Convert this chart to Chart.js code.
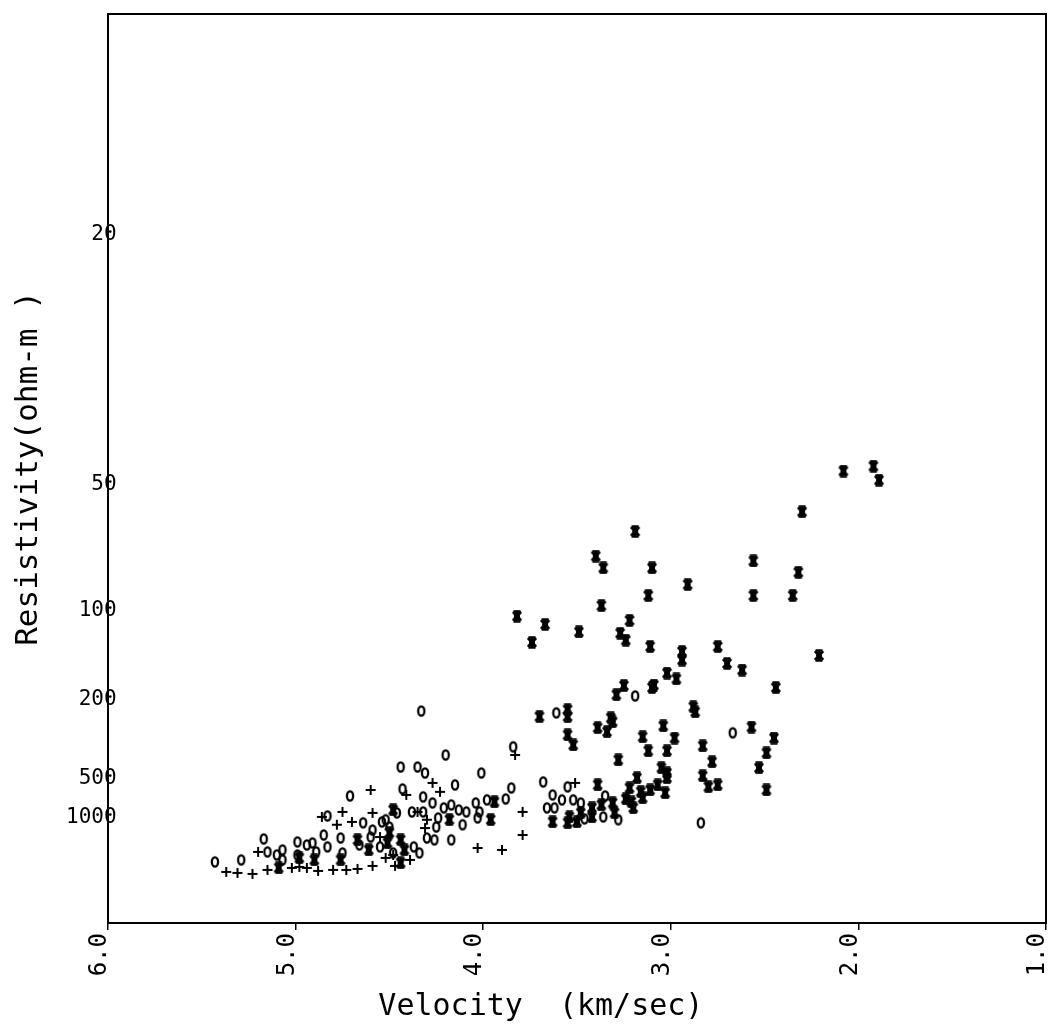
<!DOCTYPE html>
<html>
<head>
<meta charset="utf-8">
<script src="https://cdn.jsdelivr.net/npm/chart.js@4.4.1/dist/chart.umd.min.js"></script>
<style>
  html, body { margin: 0; padding: 0; background: #fff; }
</style>
</head>
<body>
<canvas id="myChart" width="1055" height="1032"></canvas>
<script>
// tick labels
const xTicks = [6, 5, 4, 3, 2, 1];
const yTicks = [20, 50, 100, 200, 500, 1000];

// '*' symbols : velocity (km/sec), resistivity (ohm-m)
const starV = [2.08, 1.92, 1.89, 2.30, 2.32, 2.35, 2.56, 2.91, 2.56, 2.94, 2.94, 2.75, 2.70, 2.62, 2.21, 2.44,
  2.88, 2.87, 2.57, 2.45, 2.83, 2.49, 2.78, 2.53, 2.83, 2.80, 2.75, 2.49, 3.19, 3.40, 3.36, 3.10, 3.12, 3.37,
  3.82, 3.67, 3.74, 3.49, 3.22, 3.27, 3.24, 3.11, 3.02, 2.97, 3.25, 3.29, 3.10, 3.09, 3.70, 3.55, 3.55, 3.32,
  3.31, 3.39, 3.34, 3.04, 3.55, 3.52, 3.15, 2.98, 3.12, 3.02, 3.28, 3.05, 3.02, 3.02, 3.18, 3.39, 3.07, 3.22,
  3.16, 3.11, 3.03, 3.24, 3.21, 3.20, 3.15, 3.37, 3.31, 3.48, 3.42, 3.42, 3.30, 3.54, 3.55, 3.50, 3.94, 3.63,
  3.96, 4.18, 4.48, 4.50, 4.44, 4.42, 4.44, 4.51, 4.67, 4.61, 5.09, 4.90, 4.76, 4.98];
const starR = [47, 46, 49, 57, 79, 91, 74, 85, 91, 134, 143, 129, 147, 155, 138, 180,
  215, 226, 264, 298, 327, 356, 399, 432, 484, 571, 554, 600, 63, 72, 77, 77, 91, 97,
  104, 110, 125, 116, 107, 117, 123, 129, 159, 167, 177, 192, 180, 176, 237, 221, 237, 240,
  250, 266, 278, 261, 288, 323, 294, 298, 347, 347, 389, 432, 464, 498, 498, 554, 554, 581,
  619, 600, 630, 697, 735, 820, 685, 776, 748, 904, 820, 980, 904, 980, 1110, 1090, 735, 1090,
  1040, 1040, 852, 1400, 1680, 2250, 3540, 1830, 1680, 2250, 4360, 3160, 3160, 2940];

// 'o' symbols
const ringV = [5.43, 5.29, 5.17, 5.15, 5.10, 5.07, 5.07, 4.99, 4.99, 4.94, 4.91, 4.89, 4.85, 4.83, 4.83, 4.76,
  4.71, 4.75, 4.64, 4.54, 4.46, 4.60, 4.55, 4.66, 4.59, 4.50, 3.84, 4.20, 4.44, 4.35, 4.31, 4.01,
  4.15, 4.43, 4.32, 4.27, 4.21, 4.17, 4.13, 4.09, 4.04, 4.02, 3.98, 3.88, 3.85, 3.68, 3.55, 3.63,
  3.58, 3.52, 3.66, 3.62, 4.17, 4.32, 4.24, 4.25, 4.11, 4.03, 4.30, 4.26, 4.34, 4.38, 4.52, 4.37,
  4.48, 3.19, 2.67, 3.35, 3.48, 3.28, 3.36, 3.46, 2.84, 3.61, 4.33];
const ringR = [3410, 3160, 1640, 2400, 2650, 2250, 3160, 1780, 2650, 1940, 1830, 2400, 1480, 960, 2050, 1600,
  662, 2480, 1110, 1090, 904, 1560, 2050, 1940, 1310, 1220, 330, 365, 427, 427, 464, 464,
  554, 590, 673, 748, 820, 776, 852, 886, 748, 886, 709, 697, 581, 529, 571, 651,
  709, 709, 820, 820, 1680, 886, 1000, 1220, 1160, 1000, 1600, 1680, 2480, 886, 1040, 2050,
  2480, 194, 281, 662, 748, 1040, 980, 1020, 1110, 228, 224];

// '+' symbols
const plusV = [5.37, 5.31, 5.23, 5.20, 5.15, 5.02, 4.98, 4.94, 4.86, 4.80, 4.78, 4.75, 4.60, 4.70, 4.73, 4.67,
  4.59, 4.52, 4.48, 4.55, 3.83, 4.27, 4.23, 4.41, 3.51, 3.79, 3.79, 3.90, 4.03, 4.30, 4.31, 4.35,
  4.88, 4.59, 4.39, 4.47];
const plusR = [5230, 5480, 5760, 2400, 4760, 4360, 4170, 4360, 980, 4760, 1160, 886, 600, 1090, 4760, 4550,
  904, 2940, 2650, 1560, 365, 537, 619, 651, 537, 886, 1480, 2250, 2120, 1040, 1250, 886,
  4990, 4000, 3160, 4000];

// the resistivity axis is linear in 1/sqrt(R)
const toU = r => 1 / Math.sqrt(r);
const pts = (vs, rs) => vs.map((v, i) => ({ x: v, y: toU(rs[i]) }));

const mark = (w, h, draw) => {
  const c = document.createElement('canvas');
  c.width = w;
  c.height = h;
  const g = c.getContext('2d');
  g.strokeStyle = '#000';
  draw(g);
  return c;
};
const ringMark = mark(12, 14, g => {
  g.lineWidth = 2.3;
  g.beginPath();
  g.ellipse(6, 7, 3.1, 4.7, 0, 0, Math.PI * 2);
  g.stroke();
});
const plusMark = mark(12, 12, g => {
  g.lineWidth = 2;
  g.beginPath();
  g.moveTo(1, 6); g.lineTo(11, 6);
  g.moveTo(6, 1); g.lineTo(6, 11);
  g.stroke();
});
const starMark = mark(12, 13, g => {
  g.lineWidth = 3;
  g.beginPath();
  g.moveTo(2, 2); g.lineTo(10, 11);
  g.moveTo(10, 2); g.lineTo(2, 11);
  g.stroke();
  g.lineWidth = 2.4;
  g.beginPath();
  g.moveTo(6, 1); g.lineTo(6, 12);
  g.moveTo(2.5, 1.5); g.lineTo(9.5, 1.5);
  g.moveTo(2.5, 11.5); g.lineTo(9.5, 11.5);
  g.moveTo(3, 6.5); g.lineTo(9, 6.5);
  g.stroke();
});

const mono = "'DejaVu Sans Mono', monospace";

new Chart(document.getElementById('myChart'), {
  type: 'scatter',
  data: {
    datasets: [
      { label: '*', data: pts(starV, starR), pointStyle: starMark, pointRadius: 5 },
      { label: 'o', data: pts(ringV, ringR), pointStyle: ringMark, pointRadius: 5 },
      { label: '+', data: pts(plusV, plusR), pointStyle: plusMark, pointRadius: 5 }
    ]
  },
  options: {
    responsive: false,
    animation: false,
    layout: { padding: { top: 14, right: 9, left: 0, bottom: 0 } },
    plugins: { legend: { display: false }, tooltip: { enabled: false } },
    scales: {
      x: {
        type: 'linear',
        position: 'bottom',
        reverse: true,
        min: 1,
        max: 6,
        afterFit: s => { s.height = 109; s.paddingLeft = 0; s.paddingRight = 0; },
        afterBuildTicks: s => { s.ticks = xTicks.map(v => ({ value: v })); },
        border: { display: true, color: '#000', width: 2 },
        grid: { display: true, drawOnChartArea: false, drawTicks: true, tickLength: 7, color: '#000', lineWidth: 1.5 },
        ticks: {
          color: '#000',
          font: { family: mono, size: 24 },
          minRotation: 90,
          maxRotation: 90,
          autoSkip: false,
          padding: 3,
          labelOffset: -8,
          callback: v => v.toFixed(1)
        },
        title: {
          display: true,
          text: 'Velocity  (km/sec)    ',
          color: '#000',
          font: { family: mono, size: 30 },
          padding: { top: 0, bottom: 7 }
        }
      },
      y: {
        type: 'linear',
        position: 'left',
        min: -0.003,
        max: 0.2964,
        afterFit: s => { s.width = 108; },
        afterBuildTicks: s => { s.ticks = yTicks.map(r => ({ value: toU(r) })); },
        border: { display: true, color: '#000', width: 2 },
        grid: { display: false, drawTicks: false },
        ticks: {
          color: '#000',
          font: { family: mono, size: 21 },
          // mirrored + padded to 4 chars so the last digit sits on the axis line
          mirror: true,
          padding: -42,
          callback: v => String(Math.round(1 / (v * v))).padStart(4, ' ')
        },
        title: {
          display: true,
          text: 'Resistivity(ohm-m )',
          color: '#000',
          font: { family: mono, size: 31 },
          padding: { top: 10, bottom: 0 }
        }
      },
      // frame lines on top and right
      xTop: {
        type: 'linear',
        position: 'top',
        min: 1,
        max: 6,
        afterFit: s => { s.height = 0; s.paddingLeft = 0; s.paddingRight = 0; },
        border: { display: true, color: '#000', width: 2 },
        grid: { display: false, drawTicks: false },
        ticks: { display: false }
      },
      yRight: {
        type: 'linear',
        position: 'right',
        min: 0,
        max: 1,
        afterFit: s => { s.width = 0; },
        border: { display: true, color: '#000', width: 2 },
        grid: { display: false, drawTicks: false },
        ticks: { display: false }
      }
    }
  }
});
</script>
</body>
</html>
